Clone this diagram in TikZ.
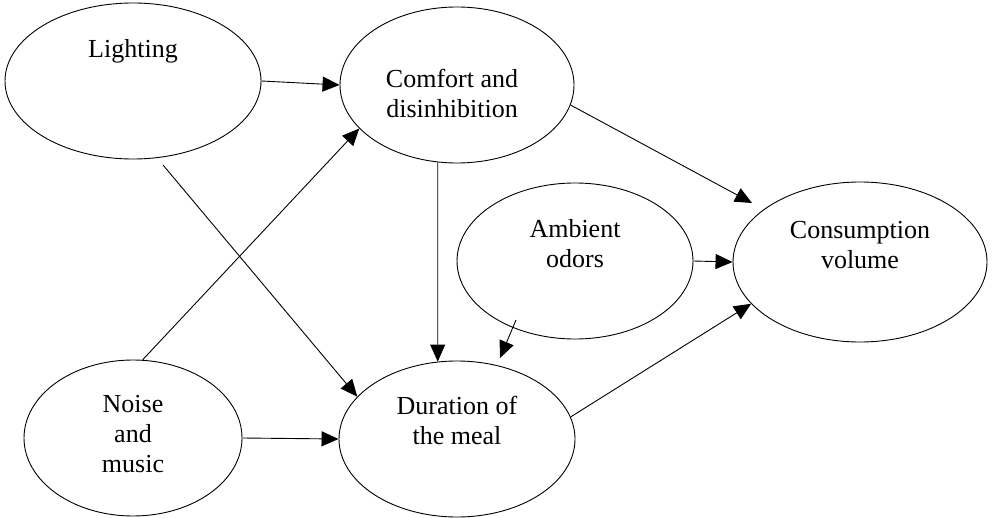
\documentclass[tikz,border=0pt]{standalone}
\usepackage{fontspec}
\setmainfont{Liberation Serif}
\usetikzlibrary{shapes.geometric,arrows.meta,calc}
\begin{document}
\begin{tikzpicture}[x=1pt,y=-1pt,
  oval/.style={draw, ellipse, inner sep=0pt, line width=0.9pt},
  lbl/.style={align=center, font=\fontsize{26}{30}\selectfont, inner sep=0pt},
  arr/.style={-{Triangle[length=17pt,width=15pt]}, line width=0.9pt}]
\useasboundingbox (0,0) rectangle (992,518);

% factor ellipses
\node[oval, minimum width=256pt, minimum height=156pt] (light) at (133,81) {};
\node[oval, minimum width=234pt, minimum height=156pt] (comf)  at (457,85) {};
\node[oval, minimum width=236pt, minimum height=156pt] (amb)   at (575,261) {};
\node[oval, minimum width=254pt, minimum height=160pt] (cons)  at (860,262) {};
\node[oval, minimum width=218pt, minimum height=156pt] (noise) at (133,438) {};
\node[oval, minimum width=236pt, minimum height=156pt] (dur)   at (457,439) {};

% labels
\node[lbl] (light-t) at (133,51)  {Lighting};
\node[lbl] (comf-t)  at (452,93)  {Comfort and\\disinhibition};
\node[lbl] (amb-t)   at (575,244) {Ambient\\odors};
\node[lbl] (cons-t)  at (860,245) {Consumption\\volume};
\node[lbl] (noise-t) at (133,434) {Noise\\and\\music};
\node[lbl] (dur-t)   at (457,420) {Duration of\\the meal};

% influences
\draw[arr] (light.east) -- (comf.west);
\draw[arr] ($(light.center)+(30,84)$) -- (dur.157);
\draw[arr] (noise.83) -- (comf.204);
\draw[arr] (noise.east) -- (dur.west);
\draw[arr] (comf.256) -- (dur.104);
\draw[arr] ($(amb.center)+(-59,59)$) -- ($(dur.center)+(43,-81)$);
\draw[arr] (comf.350) -- ($(cons.center)+(-108,-59)$);
\draw[arr] (amb.east) -- (cons.west);
\draw[arr] (dur.11) -- (cons.201);
\end{tikzpicture}
\end{document}
